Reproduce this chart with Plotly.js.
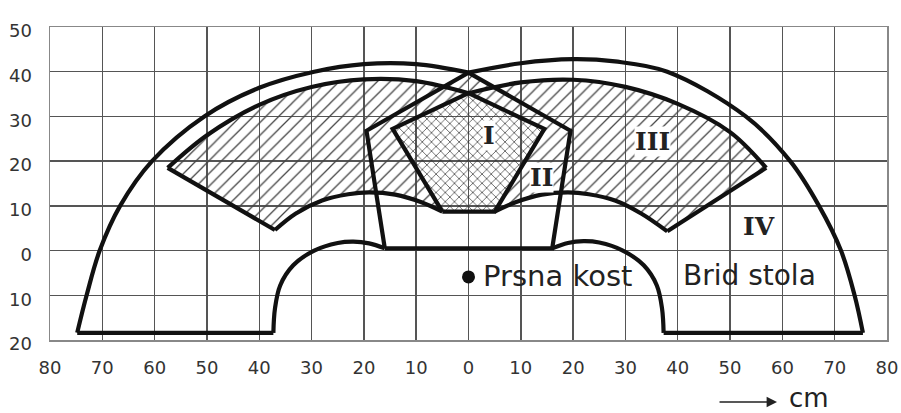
<!DOCTYPE html>
<html>
<head>
<meta charset="utf-8">
<script src="https://cdn.plot.ly/plotly-3.0.1.min.js"></script>
<style>html,body{margin:0;padding:0;background:#fff;}#chart{width:901px;height:413px;}</style>
</head>
<body>
<div id="chart"></div>
<script>
// ---- tick labels ----
const xTickVals = [-80,-70,-60,-50,-40,-30,-20,-10,0,10,20,30,40,50,60,70,80];
const xTickText = ['80','70','60','50','40','30','20','10','0','10','20','30','40','50','60','70','80'];
const yTickVals = [-20,-10,0,10,20,30,40,50];
const yTickText = ['20','10','0','10','20','30','40','50'];

// ---- outer reach arcs (zone IV) ----
const bigLX = [-74.8,-73,-70.5,-66.6,-60.5,-50.5,-40,-29.5,-20,-10,0];
const bigLY = [-18.4,-10,0,10,20,30,36.4,40,41.7,41.7,39.8];
const bigRX = [75.4,73.8,71.2,67,61.5,53,38,28,20,10,0];
const bigRY = [-18.4,-10,0,10,20,30,40,42.3,42.8,41.9,39.8];

// ---- table edge ----
const baseLX = [-74.8,-37.3];
const baseRX = [37.3,75.4];
const baseY = [-18.4,-18.4];
const cutLX = [-37.3,-37,-36,-33.5,-29.5,-25,-22,-19,-16];
const cutLY = [-18.4,-13,-7.8,-3.3,0,1.7,2,1.6,0.5];
const cutRX = [16,19,22,25,29.5,33.5,36,37,37.3];
const cutRY = [0.5,1.7,2.1,1.8,0,-3.3,-7.8,-13,-18.4];

// ---- zone III sectors ----
const outerIIILX = [-57.5,-50,-40,-30,-20,-10,0];
const outerIIILY = [18.5,25.8,32.6,36.6,38.3,37.9,35.2];
const outerIIIRX = [56.9,50,40,30,20,10,0];
const outerIIIRY = [18.5,26.5,32.8,36.6,38.2,37.6,35.2];
const innerLX = [-37,-33,-28,-23,-19,-14,-9,-5];
const innerLY = [4.6,8.3,11.2,12.6,13,12.5,10.8,8.7];
const innerRX = [38,33,28,23,19,14,9,5];
const innerRY = [4.3,8.3,11.2,12.6,13,12.5,10.8,8.7];
const radialLX = [-57.5,-37], radialLY = [18.5,4.6];
const radialRX = [56.9,38], radialRY = [18.5,4.3];

// ---- zones I and II (pentagons) ----
const pentIX = [-5,-14.5,0,14.5,5,-5];
const pentIY = [8.7,27.2,35.2,27.2,8.7,8.7];
const pentIIX = [-16,-19.5,0,19.5,16,-16];
const pentIIY = [0.5,26.8,39.8,26.8,0.5,0.5];
// crossings of zone III outer arcs with zone II top edges
const crossX = [-4.7,4.7];
const crossY = [36.7,36.7];

// ---- point + labels ----
const sternumX = [0], sternumY = [-5.9];
const zoneNames = ['I','II','III','IV'];
const zoneX = [3.9,13.9,35.1,55.6];
const zoneY = [25.8,16.4,24.5,5.3];

// ---- build hatched region (zone III ∪ zone II above inner arcs, minus zone I) ----
const hx = [].concat(
  outerIIILX.slice(0,6), [crossX[0], pentIIX[2], crossX[1]],
  outerIIIRX.slice(0,6).reverse(),
  innerRX,
  [pentIX[3], pentIX[2], pentIX[1], pentIX[0]],
  innerLX.slice().reverse()
);
const hy = [].concat(
  outerIIILY.slice(0,6), [crossY[0], pentIIY[2], crossY[1]],
  outerIIIRY.slice(0,6).reverse(),
  innerRY,
  [pentIY[3], pentIY[2], pentIY[1], pentIY[0]],
  innerLY.slice().reverse()
);

const INK = '#111';
const W = 4.2;
function ln(x, y, spline) {
  return {x: x, y: y, type: 'scatter', mode: 'lines',
    line: {color: INK, width: W, shape: spline ? 'spline' : 'linear', smoothing: 1},
    hoverinfo: 'skip', showlegend: false};
}

const traces = [
  {x: hx, y: hy, type: 'scatter', mode: 'lines', fill: 'toself',
   line: {width: 0, color: 'rgba(0,0,0,0)'}, fillcolor: 'rgba(255,255,255,0)',
   fillpattern: {shape: '/', size: 9, solidity: 0.14, fgcolor: '#444', bgcolor: 'rgba(255,255,255,0)'},
   hoverinfo: 'skip', showlegend: false},
  {x: pentIX, y: pentIY, type: 'scatter', mode: 'lines', fill: 'toself',
   line: {width: 0, color: 'rgba(0,0,0,0)'}, fillcolor: 'rgba(255,255,255,0)',
   fillpattern: {shape: 'x', size: 6.5, solidity: 0.2, fgcolor: '#333', bgcolor: 'rgba(255,255,255,0)'},
   hoverinfo: 'skip', showlegend: false},
  ln(bigLX, bigLY, true),
  ln(bigRX, bigRY, true),
  ln(baseLX, baseY, false),
  ln(baseRX, baseY, false),
  ln(cutLX, cutLY, true),
  ln(cutRX, cutRY, true),
  ln(pentIIX, pentIIY, false),
  ln(outerIIILX, outerIIILY, true),
  ln(outerIIIRX, outerIIIRY, true),
  ln(radialLX, radialLY, false),
  ln(radialRX, radialRY, false),
  ln(innerLX, innerLY, true),
  ln(innerRX, innerRY, true),
  ln(pentIX, pentIY, false),
  {x: sternumX, y: sternumY, type: 'scatter', mode: 'markers',
   marker: {color: INK, size: 13}, hoverinfo: 'skip', showlegend: false}
];

const annotations = zoneNames.map((t, i) => ({
  x: zoneX[i], y: zoneY[i], xref: 'x', yref: 'y', text: '<b>' + t + '</b>', showarrow: false,
  font: {family: 'DejaVu Serif', size: 25, color: '#222'},
  bgcolor: i < 3 ? 'white' : 'rgba(0,0,0,0)', borderpad: 0, xanchor: 'center', yanchor: 'middle'
}));
annotations.push(
  {x: 2.4, y: -5.7, xref: 'x', yref: 'y', text: 'Prsna kost', showarrow: false, xanchor: 'left', yanchor: 'middle',
   font: {family: 'DejaVu Sans', size: 29, color: '#222'}},
  {x: 40.6, y: -5.5, xref: 'x', yref: 'y', text: 'Brid stola', showarrow: false, xanchor: 'left', yanchor: 'middle',
   font: {family: 'DejaVu Sans', size: 28, color: '#222'}},
  {x: 0.8686, y: -0.198, xref: 'paper', yref: 'paper', text: '', showarrow: true, ax: -59, ay: 0,
   arrowhead: 2, arrowsize: 1.3, arrowwidth: 1.6, arrowcolor: '#222', standoff: 0},
  {x: 0.9068, y: -0.184, xref: 'paper', yref: 'paper', text: 'cm', showarrow: false, xanchor: 'center', yanchor: 'middle',
   borderpad: 0, font: {family: 'DejaVu Sans', size: 26, color: '#222'}}
);

const layout = {
  width: 901, height: 413,
  margin: {l: 50, r: 14, t: 27, b: 73},
  paper_bgcolor: 'white', plot_bgcolor: 'white',
  showlegend: false, hovermode: false,
  xaxis: {range: [-80,80], tickmode: 'array', tickvals: xTickVals, ticktext: xTickText,
    showgrid: true, gridcolor: '#555', gridwidth: 1.4, zeroline: false,
    showline: true, mirror: true, linecolor: '#888', linewidth: 1.5,
    ticks: '', ticklabelstandoff: 11,
    tickfont: {family: 'DejaVu Sans', size: 18, color: '#333'}, fixedrange: true},
  yaxis: {range: [-20,50], tickmode: 'array', tickvals: yTickVals, ticktext: yTickText,
    showgrid: true, gridcolor: '#555', gridwidth: 1.4, zeroline: false,
    showline: true, mirror: true, linecolor: '#888', linewidth: 1.5,
    ticks: '', ticklabelstandoff: 13, ticklabelshift: 4,
    tickfont: {family: 'DejaVu Sans', size: 18, color: '#333'}, fixedrange: true},
  annotations: annotations
};

Plotly.newPlot('chart', traces, layout, {staticPlot: true, displayModeBar: false});
</script>
</body>
</html>
